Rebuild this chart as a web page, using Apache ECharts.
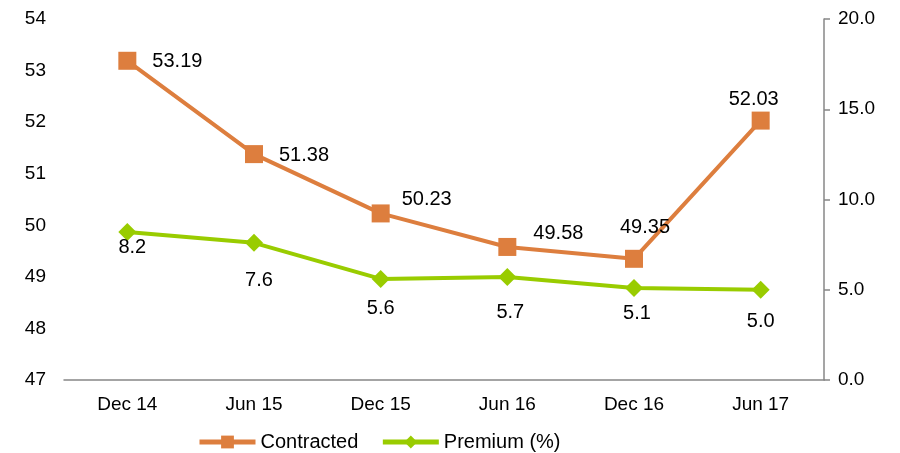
<!DOCTYPE html>
<html>
<head>
<meta charset="utf-8">
<script src="https://cdn.jsdelivr.net/npm/echarts@6/dist/echarts.min.js"></script>
<style>
html, body { margin: 0; padding: 0; background: #fff; }
#main { width: 900px; height: 453px; }
</style>
</head>
<body>
<div id="main"></div>
<script>
var categories = ['Dec 14', 'Jun 15', 'Dec 15', 'Jun 16', 'Dec 16', 'Jun 17'];
var contracted = [53.19, 51.38, 50.23, 49.58, 49.35, 52.03];
var premium = [8.2, 7.6, 5.6, 5.7, 5.1, 5.0];
var premiumText = ['8.2', '7.6', '5.6', '5.7', '5.1', '5.0'];

// label nudges
var contractedOffset = [[11, 1], [11, 1], [7, -14], [12, -13], [-28, -31], [-46, -21]];
var premiumOffset = [[5, -9], [5, 14], [0, 6], [3, 11], [3, 2], [0, 8]];

var orange = '#dd7e3e';
var green = '#99cc00';
var font = 'Liberation Sans, Arial, sans-serif';

var chart = echarts.init(document.getElementById('main'));

var option = {
    animation: false,
    textStyle: { fontFamily: font },
    grid: { left: 64, right: 76, top: 19, bottom: 73 },
    legend: {
        left: 192,
        top: 427,
        itemWidth: 56,
        itemHeight: 16,
        itemGap: 22,
        lineStyle: { width: 5 },
        textStyle: { fontSize: 20, color: '#000', fontFamily: font },
        data: ['Contracted', 'Premium (%)']
    },
    xAxis: {
        type: 'category',
        data: categories,
        axisLine: { lineStyle: { color: '#878787', width: 1.5 } },
        axisTick: { show: false },
        axisLabel: { color: '#000', fontSize: 19, margin: 15 }
    },
    yAxis: [{
        type: 'value',
        min: 47,
        max: 54,
        interval: 1,
        axisLine: { show: false },
        axisTick: { show: false },
        splitLine: { show: false },
        axisLabel: { color: '#000', fontSize: 19, margin: 18 }
    }, {
        type: 'value',
        min: 0,
        max: 20,
        interval: 5,
        position: 'right',
        axisLine: { show: true, lineStyle: { color: '#878787', width: 1.5 } },
        axisTick: { show: true, length: 6, lineStyle: { color: '#878787', width: 1.5 } },
        splitLine: { show: false },
        axisLabel: {
            color: '#000', fontSize: 19, margin: 14,
            formatter: function (v) { return v.toFixed(1); }
        }
    }],
    series: [{
        name: 'Contracted',
        type: 'line',
        yAxisIndex: 0,
        symbol: 'rect',
        symbolSize: 18,
        itemStyle: { color: orange },
        lineStyle: { color: orange, width: 4 },
        label: { show: true, position: 'right', distance: 5, fontSize: 20, color: '#000' },
        data: contracted.map(function (v, i) {
            return { value: v, label: { offset: contractedOffset[i] } };
        })
    }, {
        name: 'Premium (%)',
        type: 'line',
        yAxisIndex: 1,
        symbol: 'diamond',
        symbolSize: 18,
        itemStyle: { color: green },
        lineStyle: { color: green, width: 4 },
        label: { show: true, position: 'bottom', distance: 5, fontSize: 20, color: '#000' },
        data: premium.map(function (v, i) {
            return {
                value: v,
                label: {
                    offset: premiumOffset[i],
                    formatter: premiumText[i]
                }
            };
        })
    }]
};

chart.setOption(option);
window.addEventListener('resize', function () {
    chart.resize();
});
</script>
</body>
</html>
